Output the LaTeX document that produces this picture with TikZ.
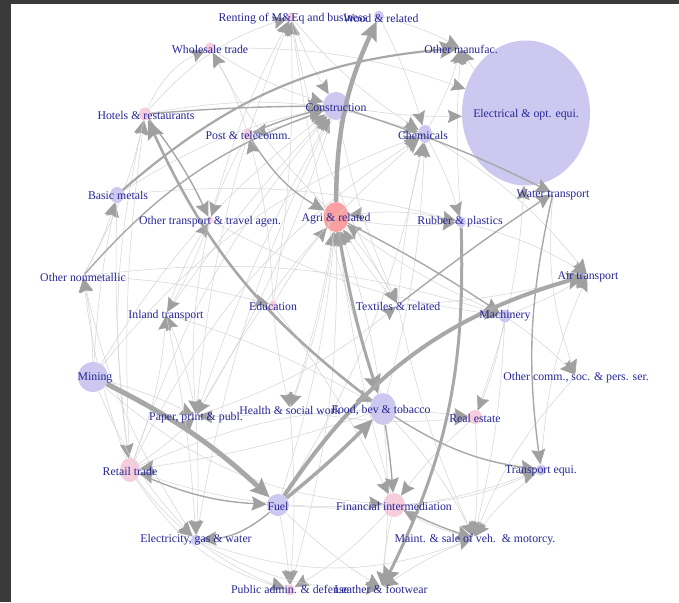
\documentclass[tikz,border=0pt]{standalone}
\usepackage{fontspec}
\setmainfont{Liberation Serif}
\usetikzlibrary{arrows.meta,shapes.geometric}
\definecolor{framec}{RGB}{58,58,58}
\definecolor{nblue}{RGB}{204,200,240}
\definecolor{npink}{RGB}{245,205,220}
\definecolor{nred}{RGB}{250,160,160}
\definecolor{lbl}{RGB}{38,38,150}
\definecolor{lgt}{RGB}{212,212,212}
\definecolor{midc}{RGB}{168,168,168}
\definecolor{tipc}{RGB}{160,160,160}
\tikzset{
 vtx/.style={ellipse, inner sep=0pt, draw=none},
 vb/.style={vtx, fill=nblue},
 vp/.style={vtx, fill=npink},
 vr/.style={vtx, fill=nred},
 vh/.style={vtx, minimum width=4pt, minimum height=4pt},
 lab/.style={text=lbl, font=\fontsize{11.8}{13}\selectfont, inner sep=0pt, yshift=-1.5pt},
 le/.style={draw=lgt, line width=0.5pt, -{Stealth[length=14pt,width=13pt,inset=2pt,color=tipc,fill=tipc]}},
 me/.style={draw=midc, line width=1.4pt, -{Stealth[length=15pt,width=14pt,inset=2pt,color=tipc,fill=tipc]}},
 he/.style={draw=midc, line width=#1, -{Stealth[length=19pt,width=17pt,inset=3pt,color=tipc,fill=tipc]}},
}
\begin{document}
\begin{tikzpicture}[x=1pt,y=-1pt]
\useasboundingbox (0,0) rectangle (679,602);
\fill[white] (0,0) rectangle (679,602);
\fill[framec] (0,0) rectangle (11,602);
\fill[framec] (0,0) rectangle (679,4);
% vertices
\node[vp, minimum width=8pt, minimum height=9pt] (rent) at (291,17) {};
\node[vb, minimum width=10pt, minimum height=11pt] (wood) at (379,16) {};
\node[vp, minimum width=10pt, minimum height=11pt] (whole) at (210,48) {};
\node[vh] (omanu) at (461,48) {};
\node[vb, minimum width=128pt, minimum height=145pt] (elec) at (526,113) {};
\node[vp, minimum width=12pt, minimum height=13pt] (hotel) at (145,114) {};
\node[vb, minimum width=26pt, minimum height=28pt] (cons) at (336,106) {};
\node[vp, minimum width=10pt, minimum height=11pt] (post) at (248,134) {};
\node[vb, minimum width=14pt, minimum height=18pt] (chem) at (425,134) {};
\node[vb, minimum width=14pt, minimum height=16pt] (basic) at (117,195) {};
\node[vh] (water) at (553,193) {};
\node[vp, minimum width=6pt, minimum height=7pt] (otrans) at (210,220) {};
\node[vr, minimum width=25pt, minimum height=30pt] (agri) at (336,217) {};
\node[vb, minimum width=10pt, minimum height=11pt] (rubber) at (461,222) {};
\node[vh] (nonmet) at (83,276) {};
\node[vh] (air) at (588,275) {};
\node[vh] (inland) at (166,314) {};
\node[vp, minimum width=8pt, minimum height=9pt] (edu) at (273,305) {};
\node[vh] (texti) at (398,305) {};
\node[vb, minimum width=12pt, minimum height=13pt] (mach) at (505,316) {};
\node[vb, minimum width=30pt, minimum height=30pt] (mining) at (93,377) {};
\node[vh] (ocomm) at (576,376) {};
\node[vh] (paper) at (196,416) {};
\node[vh] (health) at (290,409) {};
\node[vb, minimum width=26pt, minimum height=32pt] (food) at (383,409) {};
\node[vp, minimum width=14pt, minimum height=14pt] (real) at (475,417) {};
\node[vp, minimum width=20pt, minimum height=24pt] (retail) at (130,470) {};
\node[vb, minimum width=10pt, minimum height=11pt] (tequi) at (541,470) {};
\node[vb, minimum width=22pt, minimum height=22pt] (fuel) at (278,505) {};
\node[vp, minimum width=22pt, minimum height=24pt] (fin) at (394,505) {};
\node[vb, minimum width=10pt, minimum height=11pt] (elecw) at (196,540) {};
\node[vh] (maint) at (474,538) {};
\node[vp, minimum width=10pt, minimum height=11pt] (pub) at (290,590) {};
\node[vh] (leather) at (382,588) {};
% light edges
\foreach \s/\t/\b in {
 retail/cons/10, mining/cons/10, paper/cons/5, elecw/cons/8, inland/cons/4, basic/cons/10,
 food/agri/-5, fin/agri/4, fuel/agri/-6, texti/agri/5, rubber/agri/-10, mach/agri/6, health/agri/-4, edu/agri/5, pub/agri/-8,
 fuel/chem/-10, paper/chem/10, mining/chem/15, retail/chem/15, texti/chem/4, food/chem/-6,
 hotel/whole/20, post/whole/-6, otrans/rent/6, edu/rent/-5, food/rent/5, paper/rent/8,
 retail/hotel/5, nonmet/hotel/-8, mining/basic/4, nonmet/basic/-6, mining/nonmet/-5, retail/nonmet/6, elecw/nonmet/10,
 inland/otrans/6, post/otrans/-5, otrans/inland/5, paper/inland/-6, retail/inland/-8,
 mining/paper/5, retail/paper/-5, cons/paper/6, basic/retail/-4, hotel/retail/-10, food/retail/5, fin/retail/10,
 paper/elecw/3, retail/elecw/-6, inland/elecw/4, mining/elecw/-10,
 fuel/pub/3, elecw/pub/-8, health/pub/4, fin/pub/8, retail/pub/-20,
 fin/leather/-4, fuel/leather/-6, food/leather/5, maint/leather/-6, elecw/leather/-15,
 real/maint/4, tequi/maint/-8, texti/maint/-6, food/maint/8, mach/maint/5,
 mach/air/-5, rubber/air/8, texti/air/-6, chem/air/10,
 mach/ocomm/5, water/ocomm/-12, elec/omanu/5, rubber/omanu/4, chem/omanu/-6,
 cons/elec/-5, agri/rubber/-8, chem/rubber/6, agri/texti/5, cons/texti/-6,
 real/fin/-6, maint/fin/8, agri/health/6, edu/health/-4, otrans/paper/-8, health/paper/6,
 cons/post/5, edu/post/-6, agri/whole/8, wood/omanu/6, rent/cons/-5, whole/cons/-8, hotel/rent/15,
 real/elec/-8, tequi/air/10, ocomm/maint/-10, retail/real/15, fuel/tequi/-12, elecw/maint/-20,
 mining/fin/-18, nonmet/mach/12, basic/rubber/10, hotel/chem/14, whole/elec/10, rent/chem/-8,
 otrans/mach/-10, edu/fin/5, health/real/-8, inland/food/6, paper/texti/-10, nonmet/edu/6,
 rent/texti/-10, wood/chem/5, mach/real/6, fin/tequi/-10}
 {\draw[le] (\s) to[bend left=\b] (\t);}
% medium edges
\draw[me] (hotel) to[bend left=2] (cons);
\draw[me] (post) to[bend left=4] (cons);
\draw[me] (nonmet) to[bend left=14] (cons);
\draw[me] (cons) to[bend left=4] (water);
\draw[me] (water) to[bend right=10] (tequi);
\draw[me] (agri) to[bend left=3] (mach);
\draw[me] (texti) to[bend left=2] (water);
\draw[me] (food) to[bend right=12] (tequi);
\draw[me] (fuel) to[bend left=18] (elecw);
\draw[me] (hotel) to[bend left=6] (otrans);
\draw[me] (retail) to[bend right=10] (fuel);
\draw[me] (fin) to[bend right=4] (maint);
\draw[me] (post) to[bend right=14] (agri);
\draw[me] (food) to[bend left=2] (fin);
% heavy edges
\draw[he=2.2pt] (basic) to[bend left=18] (omanu);
\draw[he=2.6pt] (food) to[bend left=14] (hotel);
\draw[he=3pt] (rubber) to[bend left=14] (leather);
\draw[he=3pt] (agri) to[bend right=4] (food);
\draw[he=3.5pt] (fuel) to[bend right=3] (food);
\draw[he=4pt] (fuel) to[bend left=20] (air);
\draw[he=5pt] (mining) to[bend left=8] (fuel);
\draw[he=4.5pt] (agri) to[bend left=12] (wood);
% labels
\node[lab] (rent-l) at (293,17) {Renting of M\&Eq and business};
\node[lab] (wood-l) at (381,17) {Wood \& related};
\node[lab] (whole-l) at (210,48) {Wholesale trade};
\node[lab] (omanu-l) at (461,48) {Other manufac.};
\node[lab] (elec-l) at (526,113) {Electrical \& opt. equi.};
\node[lab] (hotel-l) at (146,114) {Hotels \& restaurants};
\node[lab] (cons-l) at (336,106) {Construction};
\node[lab] (post-l) at (248,134) {Post \& telecomm.};
\node[lab] (chem-l) at (423,134) {Chemicals};
\node[lab] (basic-l) at (118,194) {Basic metals};
\node[lab] (water-l) at (553,193) {Water transport};
\node[lab] (otrans-l) at (210,220) {Other transport \& travel agen.};
\node[lab] (agri-l) at (336,217) {Agri \& related};
\node[lab] (rubber-l) at (460,220) {Rubber \& plastics};
\node[lab] (nonmet-l) at (83,276) {Other nonmetallic};
\node[lab] (air-l) at (588,275) {Air transport};
\node[lab] (inland-l) at (166,314) {Inland transport};
\node[lab] (edu-l) at (273,305) {Education};
\node[lab] (texti-l) at (398,305) {Textiles \& related};
\node[lab] (mach-l) at (505,314) {Machinery};
\node[lab] (mining-l) at (95,376) {Mining};
\node[lab] (ocomm-l) at (576,376) {Other comm., soc. \& pers. ser.};
\node[lab] (paper-l) at (196,416) {Paper, print \& publ.};
\node[lab] (health-l) at (290,409) {Health \& social work};
\node[lab] (food-l) at (381,409) {Food, bev \& tobacco};
\node[lab] (real-l) at (475,417) {Real estate};
\node[lab] (retail-l) at (130,470) {Retail trade};
\node[lab] (tequi-l) at (541,469) {Transport equi.};
\node[lab] (fuel-l) at (278,505) {Fuel};
\node[lab] (fin-l) at (394,505) {Financial intermediation};
\node[lab] (elecw-l) at (196,538) {Electricity, gas \& water};
\node[lab] (maint-l) at (475,538) {Maint. \& sale of veh.\ \ \& motorcy.};
\node[lab] (pub-l) at (290,588) {Public admin. \& defense};
\node[lab] (leather-l) at (381,588) {Leather \& footwear};
\end{tikzpicture}
\end{document}
